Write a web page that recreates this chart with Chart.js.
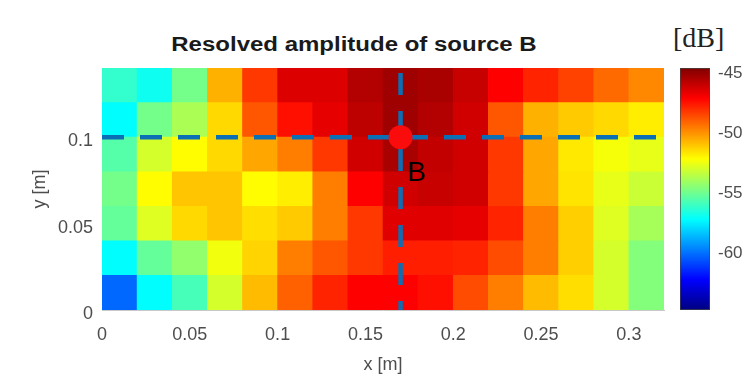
<!DOCTYPE html>
<html>
<head>
<meta charset="utf-8">
<script src="https://cdn.jsdelivr.net/npm/chart.js@4/dist/chart.umd.min.js"></script>
<style>
  body { margin: 0; background: #fff; width: 756px; height: 385px; overflow: hidden; position: relative; font-family: "Liberation Sans", Arial, sans-serif; }
  #main { position: absolute; left: 0; top: 0; }
  #bar { position: absolute; left: 670px; top: 0; }
  #title { position: absolute; left: 354px; top: 33px; font-weight: bold; font-size: 20px; color: #1a1a1a; white-space: nowrap; transform: translateX(-50%) scaleX(1.2); }
  #unit { position: absolute; left: 673px; top: 22px; font-family: "Liberation Serif", "DejaVu Serif", serif; font-size: 28px; color: #222; }
</style>
</head>
<body>
<div id="title">Resolved amplitude of source B</div>
<div id="unit">[dB]</div>
<canvas id="main" width="680" height="385"></canvas>
<canvas id="bar" width="86" height="385"></canvas>
<script>
// grid of the map (cell centres in x, cell edges in y) [m]
var xCenters = [0.01, 0.03, 0.05, 0.07, 0.09, 0.11, 0.13, 0.15, 0.17, 0.19, 0.21, 0.23, 0.25, 0.27, 0.29, 0.31];
var yEdges = [0, 0.02, 0.04, 0.06, 0.08, 0.10, 0.12, 0.14];

// amplitude per row [dB], bottom row first
var level_y01 = [-60.2, -57.2, -55.8, -53.0, -50.8, -49.0, -47.8, -47.1, -47.1, -47.4, -48.6, -49.6, -50.8, -51.5, -53.0, -54.6];
var level_y03 = [-57.2, -55.2, -54.3, -52.4, -51.3, -49.6, -48.8, -48.2, -47.7, -47.7, -47.8, -48.6, -49.6, -51.2, -53.0, -54.6];
var level_y05 = [-55.2, -52.8, -51.4, -51.0, -51.5, -51.1, -49.6, -48.2, -46.5, -46.5, -46.6, -47.8, -49.6, -51.2, -52.8, -53.9];
var level_y07 = [-54.9, -52.1, -51.0, -51.0, -52.1, -51.8, -49.6, -47.1, -46.2, -46.0, -46.2, -48.2, -50.4, -51.6, -52.6, -53.2];
var level_y09 = [-55.5, -53.0, -52.1, -51.4, -50.4, -49.6, -48.2, -46.2, -45.4, -45.9, -46.2, -48.2, -50.4, -51.7, -52.3, -52.6];
var level_y11 = [-57.2, -54.9, -53.8, -51.4, -48.8, -47.4, -46.6, -45.8, -45.2, -45.6, -46.2, -48.8, -50.6, -51.1, -51.4, -51.8];
var level_y13 = [-56.2, -56.9, -54.9, -50.6, -48.2, -46.4, -46.4, -45.6, -45.2, -45.4, -46.0, -47.1, -47.8, -48.4, -49.2, -49.8];
var rows = [level_y01, level_y03, level_y05, level_y07, level_y09, level_y11, level_y13];

// source position and the two cut lines through it
var sourceB = {x: 0.17, y: 0.1};
var xRange = [0, 0.32];
var yRange = [0, 0.14];

// ticks
var xTicks = [0, 0.05, 0.1, 0.15, 0.2, 0.25, 0.3];
var yTicks = [0, 0.05, 0.1];
var dbTicks = [-60, -55, -50, -45];
var dbRange = [-64.75, -44.58];

Chart.defaults.font.family = '"Liberation Sans", Arial, sans-serif';
Chart.defaults.color = '#4d4d4d';

// MATLAB jet colormap
function clamp(v) { return Math.max(0, Math.min(1, v)); }
function jetAt(t) {
  var r = clamp(1.5 - Math.abs(4 * t - 3));
  var g = clamp(1.5 - Math.abs(4 * t - 2));
  var b = clamp(1.5 - Math.abs(4 * t - 1));
  return 'rgb(' + Math.round(r * 255) + ',' + Math.round(g * 255) + ',' + Math.round(b * 255) + ')';
}
function jet(db) {
  return jetAt(clamp((db - dbRange[0]) / (dbRange[1] - dbRange[0])));
}

var datasets = [];
rows.forEach(function(vals, r) {
  datasets.push({
    type: 'bar',
    data: xCenters.map(function(x) { return {x: x, y: [yEdges[r], yEdges[r + 1]]}; }),
    backgroundColor: vals.map(jet),
    borderWidth: 0,
    barPercentage: 1,
    categoryPercentage: 1,
    grouped: false,
    order: 5
  });
});

var cutColor = '#0b6fb6';
datasets.push({
  type: 'line',
  data: [{x: xRange[0], y: sourceB.y}, {x: xRange[1], y: sourceB.y}],
  borderColor: cutColor,
  borderWidth: 4.5,
  borderDash: [22, 16],
  pointRadius: 0,
  order: 2
});
datasets.push({
  type: 'line',
  data: [{x: sourceB.x, y: yRange[1]}, {x: sourceB.x, y: yRange[0]}],
  borderColor: cutColor,
  borderWidth: 4.5,
  borderDash: [22, 16],
  borderDashOffset: -5,
  pointRadius: 0,
  order: 2
});
datasets.push({
  type: 'scatter',
  data: [sourceB],
  backgroundColor: 'rgb(250,12,12)',
  borderWidth: 0,
  pointRadius: 12,
  order: 1
});

var labelB = {
  id: 'labelB',
  afterDatasetsDraw: function(chart) {
    var ctx = chart.ctx;
    var px = chart.scales.x.getPixelForValue(sourceB.x);
    var py = chart.scales.y.getPixelForValue(sourceB.y);
    ctx.save();
    ctx.fillStyle = '#000';
    ctx.font = '28px "Liberation Sans", Arial, sans-serif';
    ctx.textBaseline = 'alphabetic';
    ctx.fillText('B', px + 7, py + 44);
    ctx.restore();
  }
};

new Chart(document.getElementById('main'), {
  type: 'bar',
  data: {datasets: datasets},
  plugins: [labelB],
  options: {
    responsive: false,
    animation: false,
    layout: {padding: {left: 0, right: 16, top: 68, bottom: 0}},
    plugins: {legend: {display: false}, tooltip: {enabled: false}},
    scales: {
      x: {
        type: 'linear',
        offset: false,
        min: xRange[0],
        max: xRange[1],
        grid: {display: false, drawTicks: false},
        border: {display: true, color: '#c8c8c8'},
        afterBuildTicks: function(s) { s.ticks = xTicks.map(function(v) { return {value: v}; }); },
        afterFit: function(s) { s.height = 75; },
        ticks: {font: {size: 18}, padding: 14, maxRotation: 0, callback: function(v) { return String(v); }},
        title: {display: true, text: 'x [m]', font: {size: 18}, padding: {bottom: 9}}
      },
      y: {
        type: 'linear',
        min: yRange[0],
        max: yRange[1],
        grid: {display: false, drawTicks: false},
        border: {display: true, color: '#c8c8c8'},
        afterBuildTicks: function(s) { s.ticks = yTicks.map(function(v) { return {value: v}; }); },
        afterFit: function(s) { s.width = 102; },
        ticks: {font: {size: 18}, padding: 9, labelOffset: 4, callback: function(v) { return String(v); }},
        title: {display: true, text: 'y [m]', font: {size: 18}, padding: {top: 29}}
      }
    }
  }
});

// colour bar
var colorbarFill = function(context) {
  var chart = context.chart;
  if (!chart.chartArea) return null;
  var y = chart.scales.y;
  var g = chart.ctx.createLinearGradient(0, y.getPixelForValue(dbRange[0]), 0, y.getPixelForValue(dbRange[1]));
  [0, 0.125, 0.375, 0.625, 0.875, 1].forEach(function(t) { g.addColorStop(t, jetAt(t)); });
  return g;
};

new Chart(document.getElementById('bar'), {
  type: 'bar',
  data: {
    labels: ['dB'],
    datasets: [{
      data: [dbRange],
      backgroundColor: colorbarFill,
      borderColor: '#444',
      borderWidth: 1,
      borderSkipped: false,
      barPercentage: 1,
      categoryPercentage: 1
    }]
  },
  options: {
    responsive: false,
    animation: false,
    layout: {padding: {left: 10, right: 0, top: 68, bottom: 75}},
    plugins: {legend: {display: false}, tooltip: {enabled: false}},
    scales: {
      x: {display: false},
      y: {
        position: 'right',
        min: dbRange[0],
        max: dbRange[1],
        grid: {display: false, drawTicks: false},
        border: {display: false},
        afterBuildTicks: function(s) { s.ticks = dbTicks.map(function(v) { return {value: v}; }); },
        afterFit: function(s) { s.width = 46; },
        ticks: {font: {size: 17}, padding: 8}
      }
    }
  }
});
</script>
</body>
</html>
